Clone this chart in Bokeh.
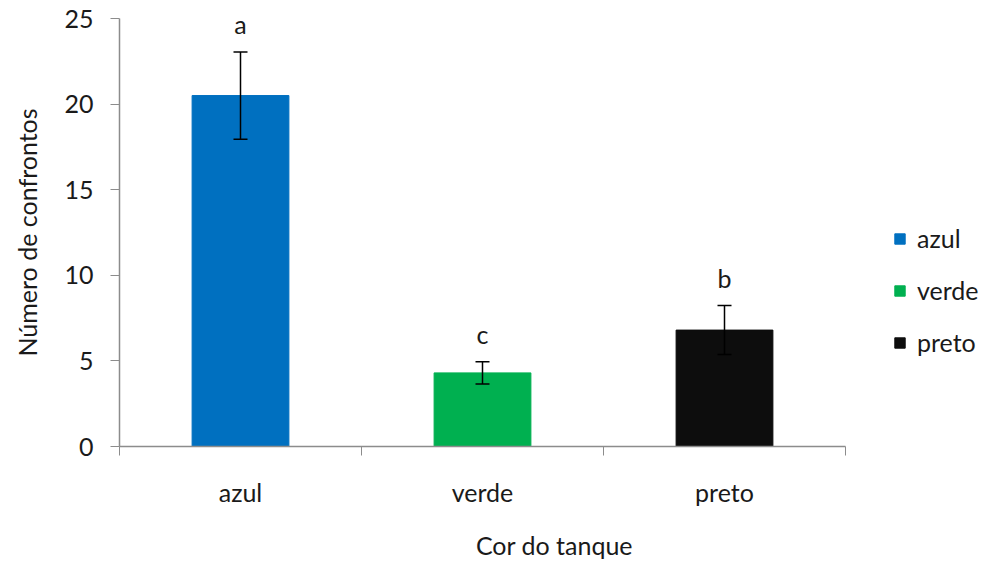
from bokeh.plotting import figure
from bokeh.models import (ColumnDataSource, Range1d, FixedTicker, Whisker, TeeHead,
                          LabelSet, Legend, LegendItem)
from bokeh.core.properties import value
from bokeh.embed import file_html
from bokeh.resources import INLINE

# Mean number of confrontations per tank colour, with error and significance letters
categories = ["azul", "verde", "preto"]
means = [20.5, 4.3, 6.8]
errors = [2.55, 0.65, 1.43]
letters = ["a", "c", "b"]
colors = ["#0070C0", "#00B050", "#0D0D0D"]
y_ticks = [0, 5, 10, 15, 20, 25]

FONT = "Lato"
FONT_SIZE = "25px"
TEXT_COLOR = "#1a1a1a"
AXIS_COLOR = "#8c8c8c"

# the plotting area spans the axis (726 px) plus room on the right for the legend
AXIS_PX = 726
FRAME_PX = 870
n = len(categories)
x_end = n * FRAME_PX / AXIS_PX

xs = [i + 0.5 for i in range(n)]
src = ColumnDataSource(dict(
    x=xs, cat=categories, mean=means, color=colors, letter=letters,
    upper=[m + e for m, e in zip(means, errors)],
    lower=[m - e for m, e in zip(means, errors)],
))

p = figure(frame_width=FRAME_PX, frame_height=428, output_backend="svg", toolbar_location=None,
           x_range=Range1d(0, x_end), y_range=Range1d(0, 25),
           min_border_left=119, min_border_right=0,
           min_border_top=18, min_border_bottom=117)
p.outline_line_color = None
p.grid.grid_line_color = None
p.background_fill_color = "white"
p.border_fill_color = "white"

bars = p.vbar(x="x", top="mean", width=0.4, source=src,
              fill_color="color", line_color="color")

p.add_layout(Whisker(source=src, base="x", upper="upper", lower="lower", level="overlay",
                     line_color="black", line_width=1.5,
                     upper_head=TeeHead(size=14, line_color="black", line_width=1.5),
                     lower_head=TeeHead(size=14, line_color="black", line_width=1.5)))

p.add_layout(LabelSet(source=src, x="x", y="upper", text="letter",
                      y_offset=18, text_align="center", text_baseline="alphabetic",
                      text_font=value(FONT), text_font_size=value(FONT_SIZE),
                      text_color=TEXT_COLOR))

# x axis: category labels centred, ticks at category boundaries
xa = p.xaxis[0]
xa.bounds = (0, n)
xa.ticker = FixedTicker(ticks=xs, minor_ticks=list(range(n + 1)))
xa.major_label_overrides = {x: c for x, c in zip(xs, categories)}
xa.major_tick_out = 0
xa.major_tick_in = 0
xa.minor_tick_out = 9
xa.minor_tick_in = 0
xa.minor_tick_line_color = AXIS_COLOR
xa.axis_line_color = AXIS_COLOR
xa.axis_line_width = 1.5
xa.major_label_standoff = 21
xa.axis_label = "Cor do tanque"
xa.axis_label_standoff = 20
xa.axis_label_text_font_style = "normal"

ya = p.yaxis[0]
ya.ticker = FixedTicker(ticks=y_ticks)
ya.minor_tick_line_color = None
ya.major_tick_out = 9
ya.major_tick_in = 0
ya.major_tick_line_color = AXIS_COLOR
ya.axis_line_color = AXIS_COLOR
ya.axis_line_width = 1.5
ya.major_label_standoff = 17
ya.axis_label = "Número de confrontos"
ya.axis_label_standoff = 19
ya.axis_label_text_font_style = "normal"

for ax in (xa, ya):
    ax.major_label_text_font = FONT
    ax.major_label_text_font_size = FONT_SIZE
    ax.major_label_text_color = TEXT_COLOR
    ax.axis_label_text_font = FONT
    ax.axis_label_text_font_size = FONT_SIZE
    ax.axis_label_text_color = TEXT_COLOR

legend = Legend(items=[LegendItem(label=c, renderers=[bars], index=i)
                       for i, c in enumerate(categories)],
                location=(774, 89), orientation="vertical",
                glyph_width=13, glyph_height=13, label_standoff=11,
                label_text_font=FONT, label_text_font_size=FONT_SIZE,
                label_text_color=TEXT_COLOR, label_height=26,
                spacing=22, padding=0, margin=0,
                border_line_color=None, background_fill_alpha=0)
p.add_layout(legend)

open("out.html", "w").write(file_html(p, INLINE))
